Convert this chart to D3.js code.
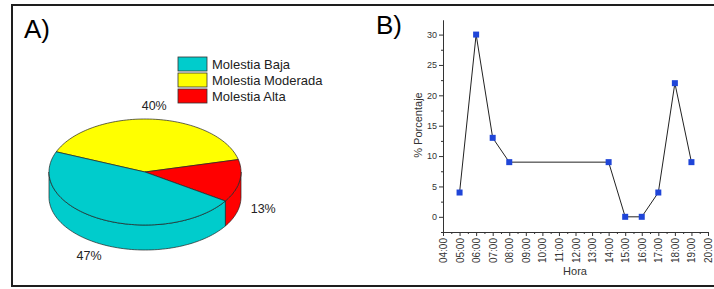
<!DOCTYPE html>
<html>
<head>
<meta charset="utf-8">
<script src="https://cdn.jsdelivr.net/npm/d3@7"></script>
<style>
  body { margin: 0; background: #fff; }
  svg { display: block; font-family: "Liberation Sans", Arial, sans-serif; }
</style>
</head>
<body>
<svg width="714" height="289"></svg>
<script>
// pie data (panel A)
var categories = ["Molestia Baja", "Molestia Moderada", "Molestia Alta"];
var shares = [47, 40, 13];
var colors = ["#00cccc", "#ffff00", "#ff0000"];
var pieOrder = [1, 2, 0];   // order the slices run round the pie

// line data (panel B)
var horas = [5, 6, 7, 8, 14, 15, 16, 17, 18, 19];
var porcentaje = [4, 30, 13, 9, 9, 0, 0, 4, 22, 9];
var yTicks = [0, 5, 10, 15, 20, 25, 30];
var xTicks = d3.range(4, 21);

var svg = d3.select("svg");

// frame
svg.append("path")
    .attr("d", "M714,5H12V286H714")
    .attr("fill", "none")
    .attr("stroke", "#1e1e1e")
    .attr("stroke-width", 2);

svg.append("text").attr("x", 24).attr("y", 38)
    .style("font-size", "26px").text("A)");
svg.append("text").attr("x", 376).attr("y", 34)
    .style("font-size", "26px").text("B)");

// ---------- A) 3D pie ----------
var cx = 145, cy = 172, rx = 96, ry = 53, depth = 25;
var start = -67.6 * Math.PI / 180;

var pieData = d3.pie()
    .sort(null)
    .value(function (d) { return shares[d]; })
    .startAngle(start)
    .endAngle(start + 2 * Math.PI)(pieOrder);

// d3 angle (clockwise from 12 o'clock) -> point on the top ellipse
function pt(a, dz) {
    var t = a - Math.PI / 2;
    return [cx + rx * Math.cos(t), cy + ry * Math.sin(t) + (dz || 0)];
}

function arcPts(a0, a1, dz) {
    var n = Math.max(2, Math.ceil(Math.abs(a1 - a0) / 0.03));
    return d3.range(n + 1).map(function (i) { return pt(a0 + (a1 - a0) * i / n, dz); });
}

var pie = svg.append("g");

// side walls: only the front half (screen angle 0..pi  ->  d3 angle pi/2..3pi/2)
pieData.forEach(function (d) {
    [Math.PI / 2, Math.PI / 2 + 2 * Math.PI, Math.PI / 2 - 2 * Math.PI].forEach(function (lo) {
        var hi = lo + Math.PI;
        var a0 = Math.max(d.startAngle, lo), a1 = Math.min(d.endAngle, hi);
        if (a1 <= a0) return;
        var pts = arcPts(a0, a1, 0).concat(arcPts(a1, a0, depth));
        pie.append("path")
            .attr("d", d3.line()(pts) + "Z")
            .attr("fill", colors[d.data])
            .attr("stroke", "#222")
            .attr("stroke-width", 0.7);
    });
});

// tops
pieData.forEach(function (d) {
    var pts = [[cx, cy]].concat(arcPts(d.startAngle, d.endAngle, 0));
    pie.append("path")
        .attr("d", d3.line()(pts) + "Z")
        .attr("fill", colors[d.data])
        .attr("stroke", "#222")
        .attr("stroke-width", 0.7);
});

// percentage labels
pieData.forEach(function (d) {
    var m = (d.startAngle + d.endAngle) / 2 - Math.PI / 2;
    var s = Math.sin(m);
    pie.append("text")
        .attr("x", cx + 1.25 * rx * Math.cos(m))
        .attr("y", cy + 1.25 * ry * s + (s > 0 ? depth : 0))
        .attr("dy", "0.35em")
        .attr("text-anchor", "middle")
        .style("font-size", "12.5px")
        .attr("fill", "#222")
        .text(shares[d.data] + "%");
});

// legend
var legend = svg.append("g").attr("transform", "translate(178,57)");
categories.forEach(function (c, i) {
    legend.append("rect")
        .attr("x", 0).attr("y", i * 16)
        .attr("width", 29).attr("height", 14)
        .attr("fill", colors[i])
        .attr("stroke", "#333")
        .attr("stroke-width", 0.8);
    legend.append("text")
        .attr("x", 34).attr("y", i * 16 + 7)
        .attr("dy", "0.36em")
        .style("font-size", "13px")
        .attr("fill", "#222")
        .text(c);
});

// ---------- B) line chart ----------
var x = d3.scaleLinear().domain([4, 20]).range([443, 708]);
var y = d3.scaleLinear().domain([-2.5, 32.4]).range([232, 20]);

var gy = svg.append("g")
    .attr("transform", "translate(443,0)")
    .call(d3.axisLeft(y).tickValues(yTicks).tickSize(4).tickSizeOuter(0));
svg.append("g")
    .attr("transform", "translate(443,0)")
    .call(d3.axisLeft(y).tickValues(d3.range(-2.5, 32.5, 5)).tickSize(2).tickFormat("").tickSizeOuter(0));

var gx = svg.append("g")
    .attr("transform", "translate(0,232)")
    .call(d3.axisBottom(x).tickValues(xTicks).tickSize(4).tickSizeOuter(0)
        .tickFormat(function (h) { return (h < 10 ? "0" : "") + h + ":00"; }));
svg.append("g")
    .attr("transform", "translate(0,232)")
    .call(d3.axisBottom(x).tickValues(d3.range(4.5, 20, 1)).tickSize(2).tickFormat("").tickSizeOuter(0));

svg.selectAll(".domain, .tick line").attr("stroke", "#333");
gy.selectAll("text").style("font-size", "9px").attr("fill", "#333").attr("x", -6);
gx.selectAll("text")
    .style("font-size", "10px")
    .attr("fill", "#333")
    .attr("text-anchor", "end")
    .attr("transform", "rotate(-90)")
    .attr("x", -6)
    .attr("y", 0)
    .attr("dy", "0.35em");

svg.append("text")
    .attr("transform", "translate(422,125) rotate(-90)")
    .attr("text-anchor", "middle")
    .style("font-size", "11px")
    .attr("fill", "#333")
    .text("% Porcentaje");
svg.append("text")
    .attr("x", 575).attr("y", 275)
    .attr("text-anchor", "middle")
    .style("font-size", "11px")
    .attr("fill", "#333")
    .text("Hora");

var pts = horas.map(function (h, i) { return [h, porcentaje[i]]; });
svg.append("path")
    .attr("d", d3.line().x(function (d) { return x(d[0]); }).y(function (d) { return y(d[1]); })(pts))
    .attr("fill", "none")
    .attr("stroke", "#222")
    .attr("stroke-width", 1);

svg.selectAll(".marker")
    .data(pts)
    .enter().append("rect")
    .attr("class", "marker")
    .attr("x", function (d) { return x(d[0]) - 3; })
    .attr("y", function (d) { return y(d[1]) - 3; })
    .attr("width", 6)
    .attr("height", 6)
    .attr("fill", "#1f45d8");
</script>
</body>
</html>
